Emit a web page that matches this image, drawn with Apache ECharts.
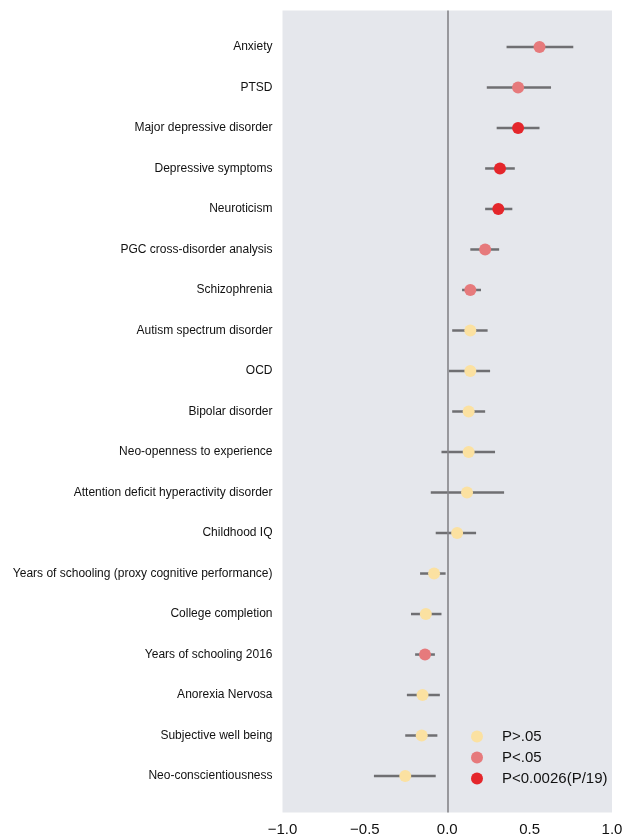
<!DOCTYPE html>
<html>
<head>
<meta charset="utf-8">
<script src="https://cdn.jsdelivr.net/npm/echarts@6/dist/echarts.min.js"></script>
<style>
  html, body { margin: 0; padding: 0; background: #ffffff; }
  #chart { width: 637px; height: 839px; }
</style>
</head>
<body>
<div id="chart"></div>
<script>
// Genetic correlation estimates with 95% confidence intervals, one row per trait
const categories = [
  'Anxiety',
  'PTSD',
  'Major depressive disorder',
  'Depressive symptoms',
  'Neuroticism',
  'PGC cross-disorder analysis',
  'Schizophrenia',
  'Autism spectrum disorder',
  'OCD',
  'Bipolar disorder',
  'Neo-openness to experience',
  'Attention deficit hyperactivity disorder',
  'Childhood IQ',
  'Years of schooling (proxy cognitive performance)',
  'College completion',
  'Years of schooling 2016',
  'Anorexia Nervosa',
  'Subjective well being',
  'Neo-conscientiousness'
];
const estimate = [0.56, 0.43, 0.43, 0.32, 0.31, 0.23, 0.14, 0.14, 0.14, 0.13, 0.13, 0.12, 0.06, -0.08, -0.13, -0.135, -0.15, -0.155, -0.255];
const ciLow    = [0.36, 0.24, 0.30, 0.23, 0.23, 0.14, 0.09, 0.03, 0.01, 0.03, -0.035, -0.10, -0.07, -0.165, -0.22, -0.195, -0.245, -0.255, -0.445];
const ciHigh   = [0.765, 0.63, 0.56, 0.41, 0.395, 0.315, 0.205, 0.245, 0.26, 0.23, 0.29, 0.345, 0.175, -0.01, -0.035, -0.075, -0.045, -0.06, -0.07];
// significance tier per row: 0 = P>.05, 1 = P<.05, 2 = P<0.0026
const tier     = [1, 1, 2, 2, 2, 1, 1, 0, 0, 0, 0, 0, 0, 0, 0, 1, 0, 0, 0];
const tierNames = ['P>.05', 'P<.05', 'P<0.0026(P/19)'];
const tierColors = ['#FBE1A1', '#E67A7C', '#E4262B'];
const xTicks = [-1, -0.5, 0, 0.5, 1];

const chart = echarts.init(document.getElementById('chart'), null, { renderer: 'canvas' });

const rows = categories.map((_, i) => i);
const ciData = rows.map(i => [ciLow[i], ciHigh[i], i]);

const pointSeries = tierNames.map((name, t) => ({
  name: name,
  type: 'scatter',
  z: 4,
  symbol: 'circle',
  symbolSize: 12,
  itemStyle: { color: tierColors[t], opacity: 1 },
  data: rows.filter(i => tier[i] === t).map(i => [estimate[i], i])
}));

const option = {
  animation: false,
  backgroundColor: '#ffffff',
  grid: {
    left: 282.5,
    right: 25,
    top: 10.5,
    bottom: 26.5,
    show: true,
    backgroundColor: '#E5E7EC',
    borderWidth: 0
  },
  xAxis: {
    type: 'value',
    min: -1,
    max: 1,
    interval: 0.5,
    axisLine: { show: false },
    axisTick: { show: false },
    splitLine: { show: false },
    axisLabel: {
      margin: 10,
      fontFamily: 'Liberation Sans',
      fontSize: 15,
      color: '#111111',
      customValues: xTicks,
      formatter: v => (v < 0 ? '\u2212' : '') + Math.abs(v).toFixed(1)
    }
  },
  yAxis: {
    type: 'value',
    inverse: true,
    min: -0.9,
    max: 18.9,
    axisLine: { show: false },
    axisTick: { show: false },
    splitLine: { show: false },
    axisLabel: {
      margin: 10,
      fontFamily: 'Liberation Sans',
      fontSize: 12,
      color: '#111111',
      customValues: rows,
      formatter: v => categories[Math.round(v)] || ''
    }
  },
  legend: {
    orient: 'vertical',
    left: 466,
    top: 724,
    itemWidth: 40,
    itemHeight: 12,
    itemGap: 6,
    icon: 'circle',
    data: tierNames,
    textStyle: {
      fontFamily: 'Liberation Sans',
      fontSize: 15,
      lineHeight: 15,
      color: '#111111'
    }
  },
  series: [
    {
      name: 'ci',
      type: 'custom',
      z: 2,
      silent: true,
      encode: { x: [0, 1], y: 2 },
      data: ciData,
      renderItem: (params, api) => {
        const a = api.coord([api.value(0), api.value(2)]);
        const b = api.coord([api.value(1), api.value(2)]);
        return {
          type: 'line',
          shape: { x1: a[0], y1: a[1], x2: b[0], y2: b[1] },
          style: { stroke: '#6f6f72', lineWidth: 2.5 }
        };
      },
      markLine: {
        silent: true,
        symbol: ['none', 'none'],
        label: { show: false },
        lineStyle: { color: '#858589', width: 1.6, type: 'solid' },
        data: [{ xAxis: 0 }]
      }
    }
  ].concat(pointSeries)
};

chart.setOption(option);
</script>
</body>
</html>
